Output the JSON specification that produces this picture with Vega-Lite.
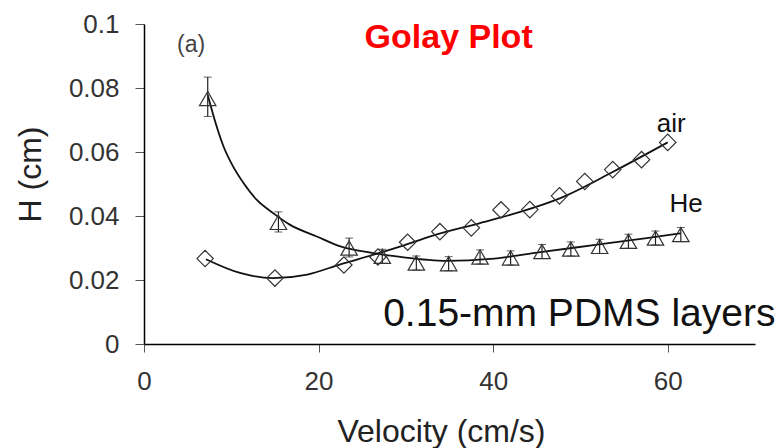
{
  "$schema": "https://vega.github.io/schema/vega-lite/v6.json",
  "autosize": "none",
  "width": 611,
  "height": 320,
  "padding": {"left": 144, "top": 24, "right": 28, "bottom": 104},
  "background": "white",
  "config": {
    "view": {"stroke": null},
    "font": "Liberation Sans",
    "axis": {
      "grid": false,
      "domainColor": "#000000",
      "domainWidth": 1.5,
      "tickColor": "#555555",
      "labelColor": "#333333",
      "labelFont": "Liberation Sans",
      "labelFontSize": 26,
      "labelFlush": false,
      "titleFont": "Liberation Sans",
      "titleFontSize": 32,
      "titleFontWeight": "normal",
      "titleColor": "#222222"
    }
  },
  "datasets": {
    "points": [
      {"gas": "air", "v": 7.0, "h": 0.0267},
      {"gas": "air", "v": 15.0, "h": 0.0206},
      {"gas": "air", "v": 22.9, "h": 0.0247},
      {"gas": "air", "v": 26.8, "h": 0.0272},
      {"gas": "air", "v": 30.2, "h": 0.0318},
      {"gas": "air", "v": 33.9, "h": 0.0351},
      {"gas": "air", "v": 37.5, "h": 0.0363},
      {"gas": "air", "v": 40.9, "h": 0.0419},
      {"gas": "air", "v": 44.2, "h": 0.0420},
      {"gas": "air", "v": 47.6, "h": 0.0463},
      {"gas": "air", "v": 50.5, "h": 0.0508},
      {"gas": "air", "v": 53.7, "h": 0.0545},
      {"gas": "air", "v": 57.0, "h": 0.0576},
      {"gas": "air", "v": 60.0, "h": 0.0630},
      {"gas": "He", "v": 7.3, "h": 0.0767, "lo": 0.0711, "hi": 0.0834},
      {"gas": "He", "v": 15.4, "h": 0.0380, "lo": 0.0350, "hi": 0.0413},
      {"gas": "He", "v": 23.5, "h": 0.0300, "lo": 0.0272, "hi": 0.0331},
      {"gas": "He", "v": 27.3, "h": 0.0274, "lo": 0.0252, "hi": 0.0296},
      {"gas": "He", "v": 31.2, "h": 0.0253, "lo": 0.0231, "hi": 0.0275},
      {"gas": "He", "v": 34.9, "h": 0.0251, "lo": 0.0229, "hi": 0.0273},
      {"gas": "He", "v": 38.5, "h": 0.0272, "lo": 0.0250, "hi": 0.0294},
      {"gas": "He", "v": 42.0, "h": 0.0269, "lo": 0.0247, "hi": 0.0291},
      {"gas": "He", "v": 45.6, "h": 0.0289, "lo": 0.0267, "hi": 0.0311},
      {"gas": "He", "v": 48.9, "h": 0.0297, "lo": 0.0275, "hi": 0.0319},
      {"gas": "He", "v": 52.2, "h": 0.0305, "lo": 0.0283, "hi": 0.0327},
      {"gas": "He", "v": 55.5, "h": 0.0321, "lo": 0.0299, "hi": 0.0343},
      {"gas": "He", "v": 58.6, "h": 0.0331, "lo": 0.0309, "hi": 0.0353},
      {"gas": "He", "v": 61.5, "h": 0.0342, "lo": 0.0320, "hi": 0.0364}
    ],
    "fits": [
      {"gas": "He", "v": 7.3, "h": 0.0778},
      {"gas": "He", "v": 8.3, "h": 0.0682},
      {"gas": "He", "v": 9.1, "h": 0.0618},
      {"gas": "He", "v": 10.2, "h": 0.0555},
      {"gas": "He", "v": 11.4, "h": 0.0503},
      {"gas": "He", "v": 12.9, "h": 0.0451},
      {"gas": "He", "v": 14.8, "h": 0.0409},
      {"gas": "He", "v": 16.7, "h": 0.0373},
      {"gas": "He", "v": 19.8, "h": 0.0336},
      {"gas": "He", "v": 22.5, "h": 0.0305},
      {"gas": "He", "v": 26.3, "h": 0.0284},
      {"gas": "He", "v": 29.4, "h": 0.0272},
      {"gas": "He", "v": 34.7, "h": 0.0260},
      {"gas": "He", "v": 39.7, "h": 0.0266},
      {"gas": "He", "v": 45.4, "h": 0.0287},
      {"gas": "He", "v": 51.5, "h": 0.0309},
      {"gas": "He", "v": 57.6, "h": 0.0331},
      {"gas": "He", "v": 61.5, "h": 0.0346},
      {"gas": "air", "v": 7.1, "h": 0.0265},
      {"gas": "air", "v": 11.0, "h": 0.0222},
      {"gas": "air", "v": 14.8, "h": 0.0206},
      {"gas": "air", "v": 18.7, "h": 0.0217},
      {"gas": "air", "v": 22.5, "h": 0.0249},
      {"gas": "air", "v": 26.3, "h": 0.0279},
      {"gas": "air", "v": 29.4, "h": 0.0305},
      {"gas": "air", "v": 33.0, "h": 0.0338},
      {"gas": "air", "v": 38.5, "h": 0.0378},
      {"gas": "air", "v": 43.0, "h": 0.0412},
      {"gas": "air", "v": 47.7, "h": 0.0456},
      {"gas": "air", "v": 53.8, "h": 0.0539},
      {"gas": "air", "v": 60.0, "h": 0.0630}
    ]
  },
  "layer": [
    {
      "data": {"name": "fits"},
      "mark": {"type": "line", "interpolate": "monotone", "color": "#111111", "strokeWidth": 1.8},
      "encoding": {
        "x": {
          "field": "v", "type": "quantitative", "title": "Velocity (cm/s)",
          "scale": {"domain": [0, 70], "nice": false},
          "axis": {
            "values": [0, 20, 40, 60],
            "tickSize": 8,
            "labelPadding": 16,
            "titleX": 297,
            "titleY": 97,
            "titleBaseline": "alphabetic"
          }
        },
        "y": {
          "field": "h", "type": "quantitative", "title": "H (cm)",
          "scale": {"domain": [0, 0.1], "nice": false},
          "axis": {
            "values": [0, 0.02, 0.04, 0.06, 0.08, 0.1],
            "format": "~g",
            "tickSize": 9,
            "labelPadding": 16,
            "titleAngle": 270,
            "titleX": -104,
            "titleY": 150,
            "titleBaseline": "alphabetic",
            "titleAlign": "center"
          }
        },
        "detail": {"field": "gas"}
      }
    },
    {
      "data": {"name": "points"},
      "transform": [{"filter": "datum.gas === 'He'"}],
      "mark": {"type": "errorbar", "ticks": {"size": 8, "color": "#222222"}, "rule": {"color": "#222222", "strokeWidth": 1.2}},
      "encoding": {
        "x": {"field": "v", "type": "quantitative", "title": "Velocity (cm/s)"},
        "y": {"field": "lo", "type": "quantitative", "title": "H (cm)"},
        "y2": {"field": "hi"}
      }
    },
    {
      "data": {"name": "points"},
      "mark": {"type": "point", "filled": false, "stroke": "#333333", "strokeWidth": 1.2, "size": 270, "opacity": 1},
      "encoding": {
        "x": {"field": "v", "type": "quantitative", "title": "Velocity (cm/s)"},
        "y": {"field": "h", "type": "quantitative", "title": "H (cm)"},
        "shape": {
          "field": "gas", "type": "nominal",
          "scale": {"domain": ["air", "He"], "range": ["diamond", "triangle-up"]},
          "legend": null
        }
      }
    },
    {
      "data": {"values": [{"label": "(a)", "v": 5.4, "h": 0.0912}]},
      "mark": {"type": "text", "fontSize": 23, "color": "#444444", "align": "center", "baseline": "alphabetic"},
      "encoding": {
        "x": {"field": "v", "type": "quantitative", "title": "Velocity (cm/s)"},
        "y": {"field": "h", "type": "quantitative", "title": "H (cm)"},
        "text": {"field": "label"}
      }
    },
    {
      "data": {"values": [{"label": "Golay Plot", "v": 34.9, "h": 0.0925}]},
      "mark": {"type": "text", "fontSize": 34, "fontWeight": "bold", "color": "#FF0000", "align": "center", "baseline": "alphabetic"},
      "encoding": {
        "x": {"field": "v", "type": "quantitative", "title": "Velocity (cm/s)"},
        "y": {"field": "h", "type": "quantitative", "title": "H (cm)"},
        "text": {"field": "label"}
      }
    },
    {
      "data": {"values": [{"label": "air", "v": 60.4, "h": 0.0664}, {"label": "He", "v": 62.1, "h": 0.0414}]},
      "mark": {"type": "text", "fontSize": 26, "color": "#111111", "align": "center", "baseline": "alphabetic"},
      "encoding": {
        "x": {"field": "v", "type": "quantitative", "title": "Velocity (cm/s)"},
        "y": {"field": "h", "type": "quantitative", "title": "H (cm)"},
        "text": {"field": "label"}
      }
    },
    {
      "data": {"values": [{"label": "0.15-mm PDMS layers", "v": 49.87, "h": 0.0055}]},
      "mark": {"type": "text", "fontSize": 39, "color": "#111111", "align": "center", "baseline": "alphabetic"},
      "encoding": {
        "x": {"field": "v", "type": "quantitative", "title": "Velocity (cm/s)"},
        "y": {"field": "h", "type": "quantitative", "title": "H (cm)"},
        "text": {"field": "label"}
      }
    }
  ]
}
